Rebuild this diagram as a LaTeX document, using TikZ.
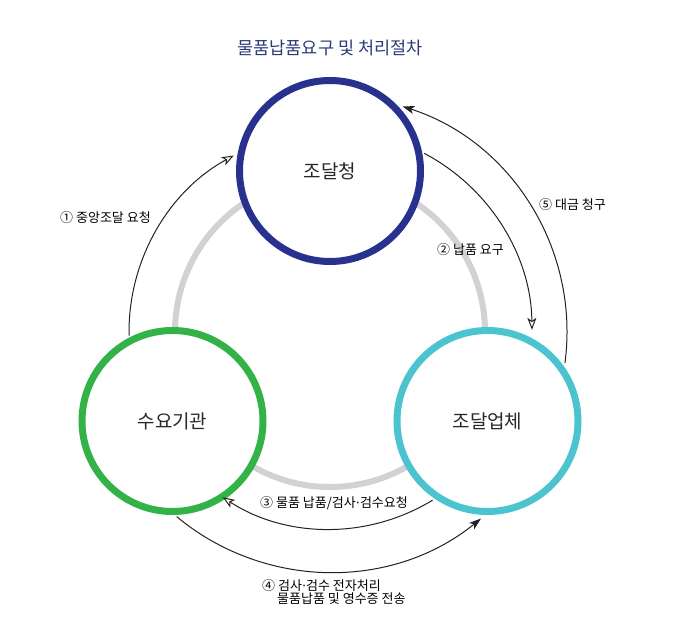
\documentclass[tikz,border=0pt]{standalone}
\usepackage{fontspec}
\setmainfont{Noto Sans CJK KR}
\newfontfamily\dotfont{DejaVu Sans}
\newcommand{\mdot}{{\dotfont ·}}
\usetikzlibrary{arrows.meta,calc}
\definecolor{navyc}{RGB}{40,50,142}
\definecolor{greenc}{RGB}{51,178,72}
\definecolor{cyanc}{RGB}{76,196,208}
\definecolor{ringc}{RGB}{210,210,212}
\definecolor{titlec}{RGB}{44,58,122}
\definecolor{arrowc}{RGB}{34,34,34}
\definecolor{labelc}{RGB}{40,40,40}
\tikzset{
  party/.style={circle,line width=7pt,fill=white,minimum size=181pt,inner sep=0pt,font=\fontsize{19}{22}\selectfont,text=labelc},
  flow/.style={line width=1pt,draw=arrowc},
  openhead/.style={-{Stealth[open,length=12pt,width=9pt,inset=3pt,fill=white]}},
  fullhead/.style={-{Stealth[length=12pt,width=8pt,inset=3pt]}},
  steplabel/.style={anchor=west,inner sep=0pt,font=\fontsize{13}{15}\selectfont,text=black},
}
\begin{document}
\begin{tikzpicture}[x=1pt,y=1pt]
\useasboundingbox (0,0) rectangle (680,641);
\coordinate (C) at (330,309);
% gray ring
\draw[ringc,line width=6pt] (C) circle[radius=155pt];
% parties
\node[party,draw=navyc] (jodal) at (330,470) {조달청};
\node[party,draw=greenc] (suyo) at (172.5,220) {수요기관};
\node[party,draw=cyanc] (upche) at (487.5,220) {조달업체};
% title
\node[font=\fontsize{17.5}{20}\selectfont,text=titlec] (title) at (330,593) {물품납품요구 및 처리절차};
% arrow endpoints
\coordinate (a1s) at ($(C)+(181:201pt)$);
\coordinate (a2s) at ($(C)+(62.2:202pt)$);
\coordinate (a3s) at ($(C)+(-58.6:197pt)$);
\coordinate (a4s) at ($(C)+(230.3:240pt)$);
\coordinate (a5s) at ($(C)+(-7.5:237pt)$);
% arrows
\draw[flow,openhead] (a1s) arc[start angle=181,end angle=118.6,radius=201pt];
\draw[flow,openhead] (a2s) arc[start angle=62.2,end angle=0.6,radius=202pt];
\draw[flow,openhead] (a3s) arc[start angle=-58.6,end angle=-123,radius=197pt];
\draw[flow,fullhead] (a4s) arc[start angle=230.3,end angle=309,radius=240pt];
\draw[flow,fullhead] (a5s) arc[start angle=-7.5,end angle=72.2,radius=237pt];
% labels
\node[steplabel] (l1) at (60,423) {① 중앙조달 요청};
\node[steplabel] (l2) at (437,391) {② 납품 요구};
\node[steplabel] (l5) at (539,436) {⑤ 대금 청구};
\node[steplabel] (l3) at (260,138) {③ 물품 납품/검사\mdot 검수요청};
\node[steplabel] (l4) at (262,55) {④ 검사\mdot 검수 전자처리};
\node[steplabel] (l4b) at (277,42) {물품납품 및 영수증 전송};
\end{tikzpicture}
\end{document}
